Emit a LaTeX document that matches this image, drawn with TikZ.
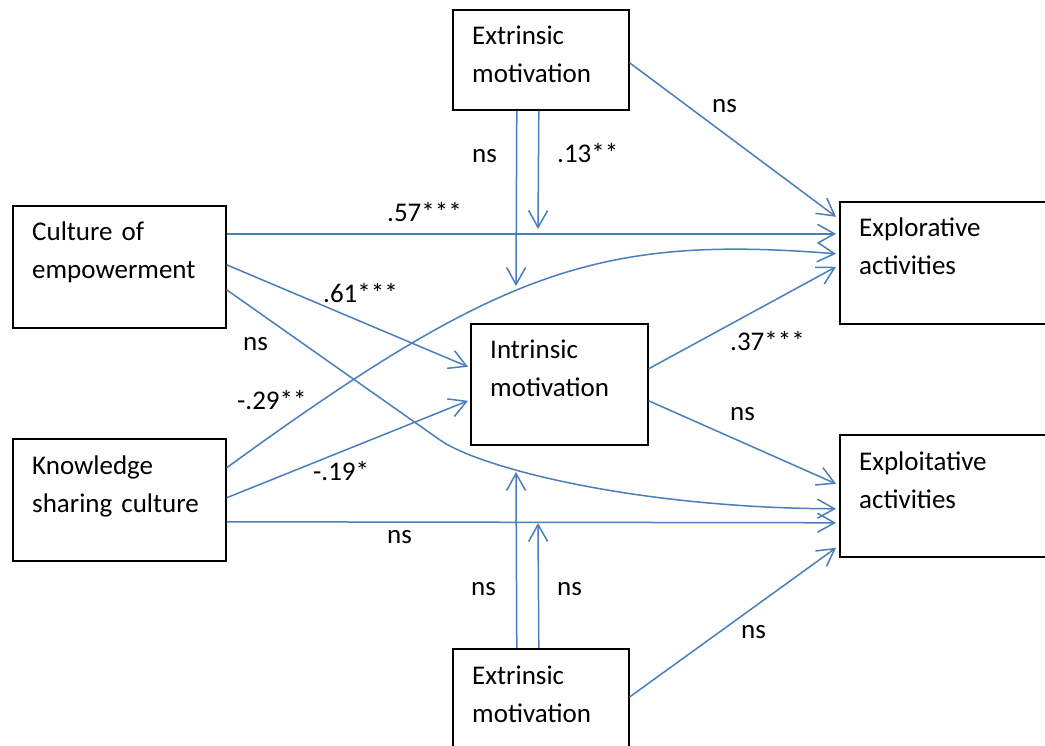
\documentclass[tikz,border=0pt]{standalone}
\usepackage{fontspec}
\setmainfont{Carlito}
\usetikzlibrary{arrows.meta}
\definecolor{linkblue}{RGB}{74,126,187}
\begin{document}
\begin{tikzpicture}[x=1pt,y=-1pt,
  box/.style={draw=black,line width=1.6pt,inner sep=0pt,anchor=north west},
  boxtext/.style={anchor=base west,inner sep=0pt,text width=200pt,align=left,
    font=\fontsize{27}{38}\selectfont},
  lbl/.style={anchor=base west,inner sep=0pt,font=\fontsize{27}{32}\selectfont},
  link/.style={draw=linkblue,line width=1.5pt,-{Straight Barb[length=17pt,width=19pt,line width=1.5pt]}}]
\useasboundingbox (0,0) rectangle (1045,746);
% boxes
\node[box,minimum width=176pt,minimum height=100pt] (ext1) at (452,9) {};
\node[box,minimum width=213pt,minimum height=122pt] (cult) at (12,205) {};
\node[box,minimum width=213pt,minimum height=122pt] (know) at (12,438) {};
\node[box,minimum width=177pt,minimum height=121pt] (intr) at (470,323) {};
\node[box,minimum width=240pt,minimum height=122pt] (expl) at (839,201) {};
\node[box,minimum width=240pt,minimum height=122pt] (expt) at (839,434) {};
\node[box,minimum width=176pt,minimum height=120pt] (ext2) at (452,648) {};
% box texts
\node[boxtext] (t1) at ([xshift=20pt,yshift=-36pt]ext1.north west) {Extrinsic\\motivation};
\node[boxtext] (t2) at ([xshift=20pt,yshift=-36pt]cult.north west) {Culture of\\empowerment};
\node[boxtext] (t3) at ([xshift=20pt,yshift=-36pt]know.north west) {Knowledge\\sharing culture};
\node[boxtext] (t4) at ([xshift=20pt,yshift=-36pt]intr.north west) {Intrinsic\\motivation};
\node[boxtext] (t5) at ([xshift=20pt,yshift=-36pt]expl.north west) {Explorative\\activities};
\node[boxtext] (t6) at ([xshift=20pt,yshift=-36pt]expt.north west) {Exploitative\\activities};
\node[boxtext] (t7) at ([xshift=20pt,yshift=-36pt]ext2.north west) {Extrinsic\\motivation};
% free ends of moderation arrows
\coordinate (c1) at (516,286);
\coordinate (c2) at (538,229);
\coordinate (c3) at (516,472);
\coordinate (c4) at (538,523);
\coordinate (bend) at (440,440);
% connectors
\draw[link] ([yshift=-3pt]ext1.east) -- ([xshift=-3pt,yshift=46pt]expl.west);
\draw[link] ([xshift=-24pt]ext1.south) -- (c1);
\draw[link] ([xshift=-2pt]ext1.south) -- (c2);
\draw[link] ([yshift=33pt]cult.east) -- ([xshift=-3pt,yshift=29pt]expl.west);
\draw[link] ([yshift=2pt]cult.east) -- ([xshift=-2pt,yshift=17.5pt]intr.west);
\draw[link] ([yshift=-23pt]cult.east) -- (bend) .. controls (480,468) and (636,508) .. ([xshift=-3pt,yshift=-13pt]expt.west);
\draw[link] ([yshift=32pt]know.east) .. controls (500,269) and (600,235) .. ([xshift=-3pt,yshift=9pt]expl.west);
\draw[link] ([yshift=2pt]know.east) -- ([xshift=-2pt,yshift=-16.5pt]intr.west);
\draw[link] ([yshift=-22pt]know.east) -- ([xshift=-3pt,yshift=-27pt]expt.west);
\draw[link] ([yshift=15.5pt]intr.east) -- ([xshift=-3pt,yshift=-4pt]expl.west);
\draw[link] ([yshift=-16.5pt]intr.east) -- ([xshift=-3pt,yshift=12pt]expt.west);
\draw[link] ([xshift=-24pt]ext2.north) -- (c3);
\draw[link] ([xshift=-2pt]ext2.north) -- (c4);
\draw[link] ([yshift=-49pt]ext2.north east) -- ([xshift=-3pt,yshift=-52pt]expt.west);
% labels
\node[lbl] (l1) at (712,113) {ns};
\node[lbl] (l2) at (472,163) {ns};
\node[lbl] (l3) at (557,163) {.13**};
\node[lbl] (l4) at (387,222) {.57***};
\node[lbl] (l5) at (323,302) {.61***};
\node[lbl] (l6) at (243,351) {ns};
\node[lbl] (l7) at (237,409) {-.29**};
\node[lbl] (l8) at (313,480) {-.19*};
\node[lbl] (l9) at (387,543) {ns};
\node[lbl] (l10) at (730,350) {.37***};
\node[lbl] (l11) at (730,420) {ns};
\node[lbl] (l12) at (471,595) {ns};
\node[lbl] (l13) at (557,595) {ns};
\node[lbl] (l14) at (741,638) {ns};
\end{tikzpicture}
\end{document}
